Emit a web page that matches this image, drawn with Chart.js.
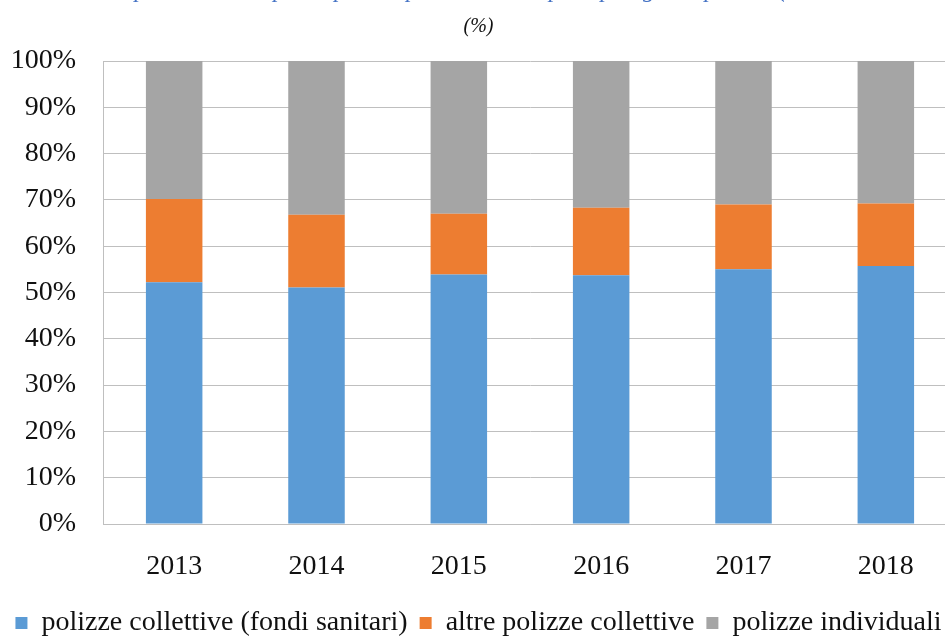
<!DOCTYPE html>
<html>
<head>
<meta charset="utf-8">
<script src="https://cdn.jsdelivr.net/npm/chart.js@4.4.1/dist/chart.umd.min.js"></script>
<style>
  html, body { margin: 0; padding: 0; background: #fff; overflow: hidden; }
  body { width: 945px; height: 637px; position: relative; }
  #wrap { position: absolute; left: 0; top: -30px; }
</style>
</head>
<body>
<div id="wrap"><canvas id="chart" width="968" height="677"></canvas></div>
<script>
const years = ["2013", "2014", "2015", "2016", "2017", "2018"];
const fondiSanitari = [52.2, 51.1, 53.9, 53.7, 55.0, 55.7];
const altreCollettive = [18.0, 15.7, 13.1, 14.6, 14.0, 13.5];
const individuali = [29.8, 33.2, 33.0, 31.7, 31.0, 30.8];
const yTicks = [0, 10, 20, 30, 40, 50, 60, 70, 80, 90, 100];

const serif = "'Liberation Serif', 'Times New Roman', serif";
const gridColor = "#bfbfbf";

new Chart(document.getElementById("chart"), {
  type: "bar",
  data: {
    labels: years,
    datasets: [
      { label: "polizze collettive (fondi sanitari)", data: fondiSanitari, backgroundColor: "#5b9bd5" },
      { label: "altre polizze collettive", data: altreCollettive, backgroundColor: "#ed7d31" },
      { label: "polizze individuali", data: individuali, backgroundColor: "#a5a5a5" },
    ],
  },
  options: {
    responsive: false,
    animation: false,
    layout: { padding: { left: 0, right: 11, top: 0, bottom: 0 } },
    datasets: {
      bar: { categoryPercentage: 1, barPercentage: 0.397, borderWidth: 0 },
    },
    scales: {
      x: {
        stacked: true,
        grid: { display: false },
        border: { display: true, color: gridColor },
        ticks: { color: "#111", font: { family: serif, size: 28 }, padding: 18, maxRotation: 0 },
        afterFit: (scale) => { scale.height = 73; },
      },
      y: {
        stacked: true,
        min: 0,
        max: 100,
        afterBuildTicks: (scale) => { scale.ticks = yTicks.map((v) => ({ value: v })); },
        grid: { color: gridColor, drawTicks: false },
        border: { display: true, color: gridColor },
        ticks: {
          color: "#111",
          font: { family: serif, size: 28 },
          padding: 27,
          callback: (v) => v + "%",
        },
        afterFit: (scale) => { scale.width = 103; },
      },
    },
    plugins: {
      tooltip: { enabled: false },
      title: {
        display: true,
        text: "Ripartizione dei premi per la spesa sanitaria per tipologia di polizza (valori",
        color: "#4472c4",
        font: { family: serif, size: 24, style: "italic", weight: "normal", lineHeight: 1 },
        padding: { top: 9, bottom: 12 },
      },
      subtitle: {
        display: true,
        text: "(%)",
        color: "#111",
        font: { family: serif, size: 20, style: "italic", lineHeight: 1.2 },
        padding: { top: 0, bottom: 22 },
      },
      legend: {
        position: "bottom",
        labels: {
          color: "#111",
          font: { family: serif, size: 28 },
          boxWidth: 12,
          boxHeight: 12,
          padding: 12,
        },
      },
    },
  },
});
</script>
</body>
</html>
